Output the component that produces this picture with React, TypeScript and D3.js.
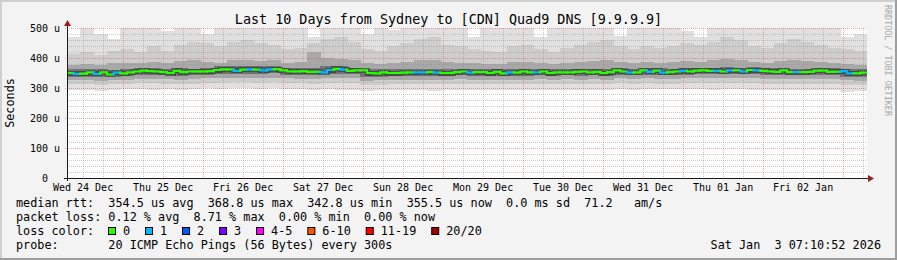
import React from "react";
import * as d3 from "d3";

// ---------- data ----------
const TITLE = "Last 10 Days from Sydney to [CDN] Quad9 DNS [9.9.9.9]";
const END_TIME = Date.UTC(2026, 0, 3, 7, 10, 52);
const SPAN_DAYS = 10;

const yTicks = [0, 100, 200, 300, 400, 500];
const yTickLabels = ["0  ", "100 u", "200 u", "300 u", "400 u", "500 u"];

// median rtt (µs), 2-hour bins (120)
const medianRtt = [
  350, 347, 348, 352, 347, 352, 345, 351, 349, 352, 355, 358, 356, 355, 353, 350, 357, 353, 355, 355,
  355, 356, 360, 362, 362, 357, 361, 362, 361, 359, 362, 363, 359, 355, 355, 356, 354, 354, 352, 360,
  364, 361, 357, 359, 359, 350, 349, 352, 350, 350, 351, 352, 352, 352, 353, 351, 350, 350, 353, 355,
  351, 353, 353, 350, 354, 349, 352, 351, 355, 352, 352, 355, 350, 352, 352, 352, 354, 355, 352, 354,
  350, 353, 359, 355, 351, 352, 359, 354, 358, 351, 353, 355, 357, 355, 358, 359, 357, 357, 355, 359,
  359, 355, 360, 359, 357, 355, 354, 359, 353, 353, 353, 354, 358, 358, 354, 354, 356, 349, 349, 351,
];
// lost pings per bin (0 = green, 1 = light blue)
const medianLoss = [
  0, 1, 0, 0, 1, 0, 0, 1, 0, 0, 0, 0, 0, 0, 0, 0, 0, 0, 0, 0,
  0, 0, 0, 0, 0, 1, 0, 1, 0, 1, 1, 0, 0, 0, 0, 0, 0, 0, 1, 1,
  0, 1, 0, 0, 0, 0, 0, 0, 0, 0, 0, 0, 1, 1, 0, 1, 0, 0, 0, 0,
  1, 0, 0, 0, 0, 0, 1, 0, 0, 0, 1, 0, 0, 0, 0, 0, 0, 0, 0, 0,
  0, 0, 0, 0, 1, 0, 0, 1, 0, 1, 0, 0, 1, 0, 0, 0, 0, 1, 0, 1,
  0, 1, 0, 1, 0, 0, 0, 0, 0, 1, 0, 0, 0, 0, 0, 0, 1, 1, 0, 0,
];

// smoke percentiles (µs), 4-hour bins (60)
const smokeMin = [
  294, 292, 290, 293, 296, 297, 295, 296, 294, 297, 300, 298, 300, 299, 298,
  300, 296, 296, 293, 296, 293, 295, 290, 292, 293, 292, 294, 291, 292, 295,
  293, 294, 293, 294, 295, 292, 294, 295, 294, 295, 293, 296, 294, 297, 296,
  296, 297, 298, 295, 297, 296, 294, 295, 295, 294, 293, 294, 292, 288, 289,
];
const smokeP10 = [
  312, 312, 310, 312, 314, 316, 316, 315, 313, 315, 318, 318, 320, 319, 318,
  320, 316, 316, 315, 318, 318, 316, 310, 311, 313, 312, 312, 312, 313, 315,
  312, 313, 312, 313, 313, 314, 313, 314, 313, 314, 313, 316, 314, 316, 315,
  315, 316, 317, 317, 318, 316, 316, 314, 314, 313, 313, 315, 314, 310, 309,
];
const smokeP25 = [
  326, 326, 325, 326, 328, 330, 331, 330, 328, 330, 332, 334, 334, 334, 334,
  335, 332, 331, 330, 334, 334, 332, 325, 326, 328, 328, 327, 328, 328, 330,
  328, 328, 327, 328, 328, 329, 328, 329, 328, 329, 328, 332, 330, 332, 330,
  330, 332, 333, 333, 335, 333, 333, 330, 330, 329, 329, 331, 330, 326, 325,
];
const smokeP40 = [
  338, 338, 336, 337, 340, 343, 344, 342, 340, 343, 345, 347, 348, 348, 348,
  350, 345, 344, 343, 348, 348, 346, 338, 338, 340, 341, 340, 341, 340, 342,
  340, 341, 340, 341, 341, 342, 341, 342, 341, 342, 341, 345, 343, 345, 343,
  343, 345, 346, 346, 348, 346, 346, 343, 343, 342, 342, 344, 343, 338, 337,
];
const smokeP60 = [
  362, 362, 362, 360, 365, 366, 368, 365, 366, 365, 368, 372, 372, 372, 372,
  372, 368, 366, 366, 372, 372, 368, 362, 362, 363, 363, 362, 363, 362, 365,
  363, 363, 362, 363, 363, 364, 363, 364, 363, 364, 363, 367, 365, 367, 366,
  365, 367, 368, 368, 370, 368, 370, 366, 366, 364, 365, 366, 366, 364, 362,
];
const smokeP75 = [
  378, 380, 377, 382, 385, 383, 386, 382, 390, 392, 388, 385, 392, 395, 390,
  392, 385, 388, 420, 400, 398, 392, 383, 380, 384, 388, 395, 392, 386, 384,
  383, 380, 380, 386, 388, 382, 380, 383, 386, 390, 392, 386, 382, 386, 384,
  386, 390, 388, 392, 396, 392, 386, 384, 390, 394, 390, 386, 384, 380, 378,
];
const smokeP90 = [
  415, 420, 410, 425, 430, 420, 440, 425, 445, 455, 450, 440, 455, 460, 450,
  445, 430, 435, 450, 465, 470, 455, 430, 425, 440, 450, 465, 470, 445, 440,
  430, 425, 420, 440, 445, 430, 420, 435, 445, 455, 460, 440, 430, 440, 435,
  440, 450, 445, 455, 470, 460, 440, 435, 450, 465, 455, 445, 435, 430, 425,
];
const smokeMax = [
  470, 510, 480, 465, 510, 510, 505, 490, 510, 510, 480, 510, 510, 510, 510,
  510, 510, 510, 470, 510, 510, 510, 480, 510, 495, 510, 510, 510, 510, 510,
  470, 510, 510, 510, 505, 470, 510, 510, 510, 510, 510, 475, 510, 510, 510,
  510, 490, 470, 505, 510, 510, 510, 510, 510, 510, 510, 510, 510, 470, 480,
];

const lossLabels = ["0", "1", "2", "3", "4-5", "6-10", "11-19", "20/20"];
const lossColors = ["#26ff00", "#00b8ff", "#0059ff", "#7e00ff", "#ff00ff", "#ff5500", "#ff0000", "#a10000"];

const legendRtt = "median rtt:  354.5 us avg  368.8 us max  342.8 us min  355.5 us now  0.0 ms sd  71.2   am/s";
const legendLoss = "packet loss: 0.12 % avg  8.71 % max  0.00 % min  0.00 % now";
const legendColor = "loss color:";
const legendProbe = "probe:       20 ICMP Echo Pings (56 Bytes) every 300s";
const watermark = "RRDTOOL / TOBI OETIKER";
const yLabel = "Seconds";

// ---------- layout ----------
const W = 897;
const H = 260;
const PL = 67;
const PR = 867;
const PT = 28;
const PB = 178;
const MONO = "'DejaVu Sans Mono', monospace";
const LEG_FS = 11.8;
const CHAR_W = 7.12;

export default function App() {
  const start = new Date(END_TIME - SPAN_DAYS * 86400000);
  const end = new Date(END_TIME);
  const x = d3.scaleUtc().domain([start, end]).range([PL, PR]);
  const y = d3.scaleLinear().domain([0, 500]).range([PB, PT]);

  const days = d3.utcDay.range(d3.utcDay.ceil(start), end);
  const sixHours = d3.utcHour.every(6)!.range(start, end).filter((d) => d.getUTCHours() !== 0);
  const noons = d3.utcHour.every(12)!.range(start, end).filter((d) => d.getUTCHours() === 12);
  const fmtDay = d3.utcFormat("%a %d %b");
  const fmtNow = d3.utcFormat("%a %b %e %H:%M:%S %Y");

  const minorY = d3.range(0, 501, 20).filter((v) => v % 100 !== 0);

  // smoke bins
  const nS = smokeMin.length;
  const sStep = (END_TIME - start.getTime()) / nS;
  const sTime = (i: number) => new Date(start.getTime() + i * sStep);
  const layers = [
    { lo: smokeMin, hi: smokeMax, color: "#e0e0e0" },
    { lo: smokeP10, hi: smokeP90, color: "#cdcdcd" },
    { lo: smokeP25, hi: smokeP75, color: "#a8a8a8" },
    { lo: smokeP40, hi: smokeP60, color: "#707070" },
  ];

  // median bins
  const nM = medianRtt.length;
  const mStep = (END_TIME - start.getTime()) / nM;
  const mTime = (i: number) => new Date(start.getTime() + i * mStep);

  const haloPath = (() => {
    let p = "";
    medianRtt.forEach((v, i) => {
      const x0 = x(mTime(i));
      const x1 = x(mTime(i + 1));
      p += (i === 0 ? `M${x0},${y(v)}` : `V${y(v)}`) + `H${x1}`;
    });
    return p;
  })();

  // loss legend positions
  const lossPos: number[] = [];
  let lx = 123;
  lossLabels.forEach((l) => {
    lossPos.push(lx);
    lx += l.length * CHAR_W + 29.9;
  });

  return (
    <svg
      width={W}
      height={H}
      style={{ position: "absolute", left: 0, top: 0, display: "block" }}
      fontFamily={MONO}
    >
      <rect x={0} y={0} width={W} height={H} fill="#f3f3f3" />
      {/* frame shades */}
      <rect x={0} y={0} width={W} height={2} fill="#cfcfcf" />
      <rect x={0} y={0} width={2} height={H} fill="#cfcfcf" />
      <rect x={0} y={H - 2} width={W} height={2} fill="#9e9e9e" />
      <rect x={W - 2} y={0} width={2} height={H} fill="#9e9e9e" />

      {/* canvas */}
      <rect x={PL} y={PT} width={PR - PL} height={PB - PT} fill="#ffffff" />

      <defs>
        <clipPath id="plotClip">
          <rect x={PL} y={PT} width={PR - PL} height={PB - PT} />
        </clipPath>
      </defs>

      {/* smoke */}
      <g clipPath="url(#plotClip)" shapeRendering="crispEdges">
        {layers.map((L, li) =>
          L.lo.map((lo, i) => {
            const x0 = x(sTime(i));
            const x1 = x(sTime(i + 1));
            const yTop = y(L.hi[i]);
            const yBot = y(lo);
            return (
              <rect
                key={`s${li}-${i}`}
                x={x0}
                y={yTop}
                width={x1 - x0 + 0.5}
                height={yBot - yTop}
                fill={L.color}
              />
            );
          })
        )}
        <path d={haloPath} fill="none" stroke="#2e2e2e" strokeWidth={5} opacity={0.6} />
      </g>

      {/* grid */}
      <g strokeDasharray="1,1" strokeWidth={1} shapeRendering="crispEdges">
        {minorY.map((v) => (
          <line key={`my${v}`} x1={PL} x2={PR} y1={y(v) + 0.5} y2={y(v) + 0.5} stroke="#8f8f8f" strokeOpacity={0.46} />
        ))}
        {sixHours.map((d, i) => (
          <line key={`mx${i}`} x1={x(d) + 0.5} x2={x(d) + 0.5} y1={PT} y2={PB} stroke="#8f8f8f" strokeOpacity={0.46} />
        ))}
        {yTicks.filter((v) => v > 0).map((v) => (
          <line key={`My${v}`} x1={PL - 2} x2={PR} y1={y(v) + 0.5} y2={y(v) + 0.5} stroke="#de5050" strokeOpacity={0.5} />
        ))}
        {days.map((d, i) => (
          <line key={`Mx${i}`} x1={x(d) + 0.5} x2={x(d) + 0.5} y1={PT} y2={PB + 2} stroke="#de5050" strokeOpacity={0.5} />
        ))}
      </g>

      {/* median line coloured by loss */}
      <g clipPath="url(#plotClip)">
        {medianRtt.map((v, i) => {
          const x0 = x(mTime(i));
          const x1 = x(mTime(i + 1));
          const prev = i === 0 ? v : medianRtt[i - 1];
          const d = `M${x0},${y(prev)}V${y(v)}H${x1}`;
          return (
            <path
              key={`m${i}`}
              d={d}
              fill="none"
              stroke={lossColors[medianLoss[i]]}
              strokeWidth={2.2}
              strokeLinecap="square"
            />
          );
        })}
      </g>

      {/* axes */}
      <line x1={PL - 3} x2={PR + 2} y1={PB + 0.5} y2={PB + 0.5} stroke="#1a1a1a" strokeWidth={1} />
      <line x1={PL + 0.5} x2={PL + 0.5} y1={PB + 3} y2={PT - 4} stroke="#1a1a1a" strokeWidth={1} />
      <path d={`M${PR + 1},${PB - 3}L${PR + 7},${PB + 0.5}L${PR + 1},${PB + 4}Z`} fill="#9b1c1c" />
      <path d={`M${PL - 3},${PT - 2}L${PL + 0.5},${PT - 8}L${PL + 4},${PT - 2}Z`} fill="#9b1c1c" />

      {/* y tick labels */}
      <g fontSize={10} fill="#000" textAnchor="end">
        {yTicks.map((v, i) => (
          <text key={`yt${v}`} x={PL - 7} y={y(v) + 3.6} xmlSpace="preserve">
            {yTickLabels[i]}
          </text>
        ))}
      </g>

      {/* x tick labels */}
      <g fontSize={10} fill="#000" textAnchor="middle">
        {noons.map((d, i) => (
          <text key={`xt${i}`} x={x(d)} y={190.5}>
            {fmtDay(d)}
          </text>
        ))}
      </g>

      {/* title */}
      <text x={W / 2} y={23.5} fontSize={13.4} textAnchor="middle" fill="#000" xmlSpace="preserve">
        {TITLE}
      </text>

      {/* y label */}
      <text
        transform={`translate(14,${(PT + PB) / 2}) rotate(-90)`}
        fontSize={LEG_FS}
        textAnchor="middle"
        fill="#000"
      >
        {yLabel}
      </text>

      {/* watermark */}
      <text
        transform={`translate(884.5,5) rotate(90)`}
        fontSize={8.4}
        fill="#a8a8a8"
        xmlSpace="preserve"
      >
        {watermark}
      </text>

      {/* legend */}
      <g fontSize={LEG_FS} fill="#000">
        <text x={16} y={207} xmlSpace="preserve">{legendRtt}</text>
        <text x={16} y={221} xmlSpace="preserve">{legendLoss}</text>
        <text x={16} y={235} xmlSpace="preserve">{legendColor}</text>
        {lossLabels.map((l, i) => (
          <g key={`lc${i}`}>
            <rect
              x={lossPos[i] - 14.5}
              y={227.5}
              width={7}
              height={7}
              fill={lossColors[i]}
              stroke="#000"
              strokeWidth={1}
            />
            <text x={lossPos[i]} y={235}>{l}</text>
          </g>
        ))}
        <text x={16} y={249} xmlSpace="preserve">{legendProbe}</text>
        <text x={881} y={249} textAnchor="end" xmlSpace="preserve">{fmtNow(end)}</text>
      </g>
    </svg>
  );
}
